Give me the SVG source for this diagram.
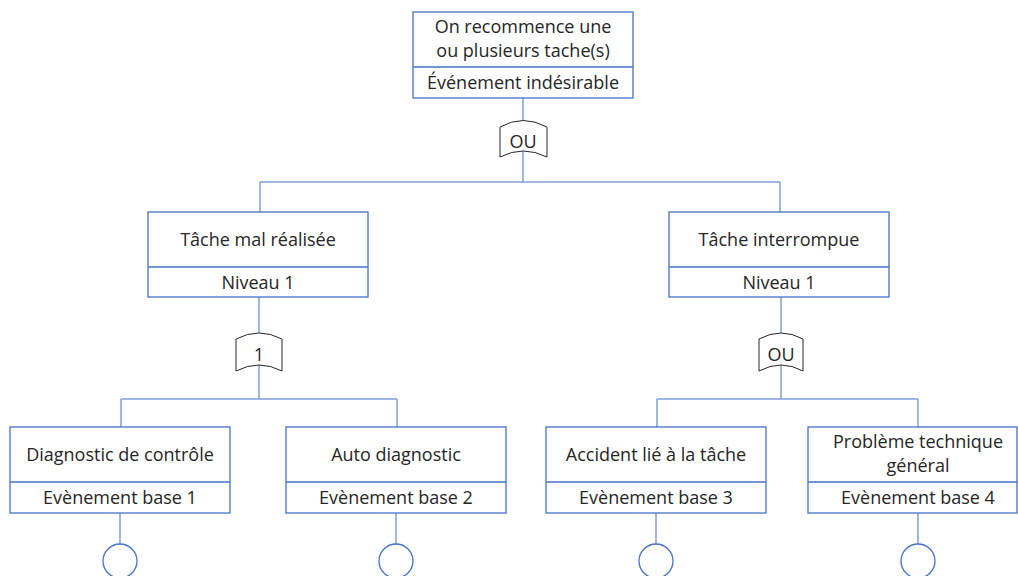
<svg xmlns="http://www.w3.org/2000/svg" width="1018" height="576" viewBox="0 0 1018 576">
<style>
.box{fill:#fff;stroke:#4472C4;stroke-width:1.3}
.div{stroke:#4472C4;stroke-width:1.3}
.ln{fill:none;stroke:#7F9FD8;stroke-width:1.5}
.gate{fill:#fff;stroke:#262626;stroke-width:1}
.circ{fill:#fff;stroke:#4472C4;stroke-width:1.3}
text{font-family:"Open Sans","Liberation Sans",sans-serif;font-size:18px;fill:#262626;text-anchor:middle}
</style>
<rect width="1018" height="576" fill="#fff"/>
<g id="connectors">
<path class="ln" d="M523,98V182M260,182H780M260,182V212M780,182V212"/>
<path class="ln" d="M259,297V399M121,399H397M121,399V427M397,399V427"/>
<path class="ln" d="M781,297V399M657,399H918M657,399V427M918,399V427"/>
<path class="ln" d="M120,513V544M396,513V544M656,513V544M918,513V544"/>
</g>
<g id="top">
<rect class="box" x="413" y="12" width="220" height="86"/>
<line class="div" x1="413" y1="67" x2="633" y2="67"/>
<text x="523" y="33">On recommence une</text>
<text x="523" y="57">ou plusieurs tache(s)</text>
<text x="523" y="89">Événement indésirable</text>
</g>
<g id="gate-top">
<path class="gate" d="M500,127Q523,114 547,127V157Q523,145 500,157Z"/>
<text x="523" y="148">OU</text>
</g>
<g id="n1">
<rect class="box" x="148" y="212" width="220" height="85"/>
<line class="div" x1="148" y1="267" x2="368" y2="267"/>
<text x="258" y="246">Tâche mal réalisée</text>
<text x="258" y="289">Niveau 1</text>
</g>
<g id="n2">
<rect class="box" x="669" y="212" width="220" height="85"/>
<line class="div" x1="669" y1="267" x2="889" y2="267"/>
<text x="779" y="246">Tâche interrompue</text>
<text x="779" y="289">Niveau 1</text>
</g>
<g id="gate-left">
<path class="gate" d="M236,339Q259,327 282,339V371Q259,359 236,371Z"/>
<text x="259" y="361">1</text>
</g>
<g id="gate-right">
<path class="gate" d="M759,339Q781,327 803,339V371Q781,359 759,371Z"/>
<text x="781" y="361">OU</text>
</g>
<g id="b1">
<rect class="box" x="10" y="427" width="220" height="86"/>
<line class="div" x1="10" y1="482" x2="230" y2="482"/>
<text x="120" y="461">Diagnostic de contrôle</text>
<text x="120" y="504">Evènement base 1</text>
<circle class="circ" cx="120" cy="561" r="17"/>
</g>
<g id="b2">
<rect class="box" x="286" y="427" width="220" height="86"/>
<line class="div" x1="286" y1="482" x2="506" y2="482"/>
<text x="396" y="461">Auto diagnostic</text>
<text x="396" y="504">Evènement base 2</text>
<circle class="circ" cx="396" cy="561" r="17"/>
</g>
<g id="b3">
<rect class="box" x="546" y="427" width="220" height="86"/>
<line class="div" x1="546" y1="482" x2="766" y2="482"/>
<text x="656" y="461">Accident lié à la tâche</text>
<text x="656" y="504">Evènement base 3</text>
<circle class="circ" cx="656" cy="561" r="17"/>
</g>
<g id="b4">
<rect class="box" x="808" y="427" width="209" height="86"/>
<line class="div" x1="808" y1="482" x2="1017" y2="482"/>
<text x="918" y="448">Problème technique</text>
<text x="918" y="472">général</text>
<text x="918" y="504">Evènement base 4</text>
<circle class="circ" cx="918" cy="561" r="17"/>
</g>
</svg>
